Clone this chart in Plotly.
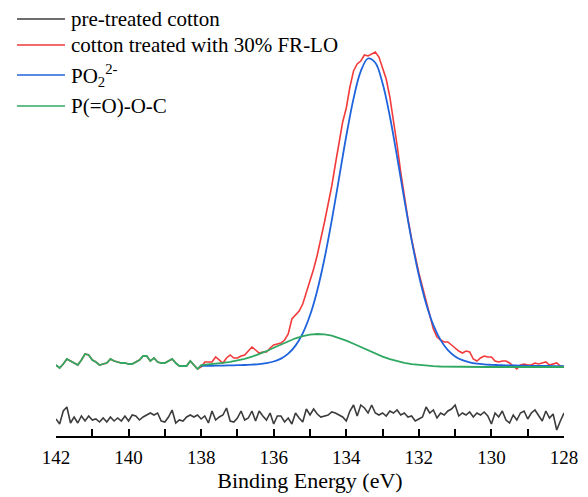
import numpy as np
import plotly.graph_objects as go

# Binding energy grids (eV)
energy_all = np.round(np.arange(142.0, 127.95, -0.1), 1)      # 141 points
energy_left = np.round(np.arange(142.0, 138.05, -0.1), 1)     # 40 points, 142.0 .. 138.1
energy_right = np.round(np.arange(138.0, 127.95, -0.1), 1)    # 101 points, 138.0 .. 128.0
energy_fit = np.round(np.arange(138.0, 127.95, -0.2), 1)      # 51 points

# pre-treated cotton (offset below)
pretreated = [
    -52, -57, -44, -40, -56, -50, -56, -49, -54, -49, -53, -52, -55, -51, -55, -50, -54,
    -51, -54, -49, -54, -48, -49, -53, -50, -48, -46, -48, -46, -54, -55, -50, -43, -56,
    -53, -54, -50, -48, -50, -48, -52, -49, -56, -44, -53, -50, -48, -41, -54, -55, -51,
    -44, -53, -51, -44, -54, -44, -49, -53, -46, -57, -49, -49, -55, -51, -57, -46, -51,
    -55, -42,
    -48, -42, -47, -50, -49, -48, -45, -46, -48, -50, -54, -44, -38, -49, -38, -41, -46,
    -38, -46, -48, -46, -49, -44, -46, -43, -48, -46, -50, -49, -54, -52, -50, -40, -46,
    -43, -51,
    -46, -48, -44, -42, -38, -49, -46, -48, -45, -50, -46, -48, -45, -49, -57, -46, -50,
    -44, -53, -56, -48, -53, -46, -44, -52, -46, -43, -49, -54, -44, -51, -47, -63, -54,
    -46,
]

# cotton treated with 30% FR-LO, 142.0 .. 138.1
treated_left = [
    2, -1, 3, 8, 6, 4, 2, 7, 13, 12, 7, 5, 2, 3, 4, 8, 6, 5, 4, 4,
    3, 3, 5, 7, 11, 11, 6, 9, 5, 4, 4, 6, 8, 4, 1, 1, 1, 6, 2, -2,
]
# cotton treated with 30% FR-LO, 138.0 .. 128.0
treated_right = [
    0, 5, 5, 5, 10, 7, 4, 9, 12, 9, 9, 11, 12, 16, 20, 17, 14, 15, 15, 19,
    22, 23, 24, 27, 33, 48, 52, 56, 63, 74, 86, 98, 112, 127, 145, 163, 181, 203, 224, 245,
    259, 280, 296, 303, 306, 312, 311, 313, 315, 310, 300, 288, 270, 248, 222, 195, 170, 148, 128, 110,
    94, 80, 66, 50, 38, 30, 27, 25, 25, 22, 19, 16, 14, 16, 15, 8, 6, 9, 11, 10,
    10, 6, 5, 6, 6, 4, 1, -2, 2, 3, 2, 2, 4, 3, 4, 5, 2, 3, 4, 1, 0,
]

# fitted components, 138.0 .. 128.0 step 0.2
po2_fit = [
    1.1, 1.2, 1.3, 1.4, 1.6, 1.8, 2.0, 2.4, 2.9, 3.9,
    5.5, 8.4, 13.4, 21.4, 33.7, 51.7, 76.6, 108.5, 146.7, 188.8,
    231.0, 268.4, 295.8, 308.5, 304.2, 283.7, 250.7, 210.2, 167.4, 126.9,
    91.7, 63.3, 41.9, 26.9, 16.9, 10.6, 6.8, 4.6, 3.3, 2.6,
    2.2, 1.9, 1.6, 1.5, 1.4, 1.2, 1.1, 1.1, 1.0, 0.9, 0.8,
]
poc_fit = [
    1.8, 2.4, 3.2, 4.1, 5.2, 6.5, 8.2, 10.3, 12.8, 15.8,
    19.2, 22.6, 25.8, 28.7, 30.9, 32.4, 33.0, 32.6, 31.3, 29.2,
    26.4, 23.2, 19.8, 16.5, 13.3, 10.4, 7.9, 5.8, 4.2, 2.9,
    2.0, 1.3, 0.8, 0.5, 0.3, 0.2, 0.1, 0.1, 0.0, 0.0,
    0.0, 0.0, 0.0, 0.0, 0.0, 0.0, 0.0, 0.0, 0.0, 0.0, 0.0,
]

series_names = ["pre-treated cotton", "cotton treated with 30% FR-LO",
                "PO<sub>2</sub><sup>2-</sup>", "P(=O)-O-C"]

FONT = "Liberation Serif"
BLACK_C = "#3c3c3c"
RED_C = "#f23a3a"
BLUE_C = "#1f64dc"
GREEN_C = "#30a862"
colors = [BLACK_C, RED_C, BLUE_C, GREEN_C]

fig = go.Figure()
fig.add_trace(go.Scatter(x=energy_all, y=pretreated, mode="lines",
                         line=dict(color=BLACK_C, width=1.6), name=series_names[0]))
fig.add_trace(go.Scatter(x=np.concatenate([energy_left, energy_right]),
                         y=treated_left + treated_right, mode="lines",
                         line=dict(color=RED_C, width=1.6), name=series_names[1]))
fig.add_trace(go.Scatter(x=energy_fit, y=po2_fit, mode="lines",
                         line=dict(color=BLUE_C, width=1.8, shape="spline"),
                         name=series_names[2]))
fig.add_trace(go.Scatter(x=np.concatenate([energy_left, energy_fit]),
                         y=treated_left + poc_fit, mode="lines",
                         line=dict(color=GREEN_C, width=1.8), name=series_names[3]))

# Legend drawn as line samples + text, placed in paper coordinates (upper left)
legend_rows = [0.9835, 0.9222, 0.8514, 0.7783]
for name, col, yy in zip(series_names, colors, legend_rows):
    fig.add_shape(type="line", xref="paper", yref="paper", x0=-0.0768, x1=0.0177, y0=yy, y1=yy,
                  line=dict(color=col, width=1.6))
    fig.add_annotation(xref="paper", yref="paper", x=0.0256, y=yy, xanchor="left", yanchor="middle",
                       text=name, showarrow=False, font=dict(family=FONT, size=21, color="black"))

# The page body has an 8px default margin, so the figure is offset by 8px.
fig.update_layout(
    width=572, height=489,
    margin=dict(l=48, r=16, t=4, b=61, autoexpand=False),
    paper_bgcolor="white", plot_bgcolor="white",
    font=dict(family=FONT, color="black"),
    showlegend=False,
    xaxis=dict(range=[142, 128], showgrid=False, zeroline=False,
               showline=True, linecolor="black", linewidth=1.5,
               ticks="inside", ticklen=7, tickwidth=1.5, tickcolor="black",
               dtick=2, tick0=128,
               minor=dict(dtick=1, ticks="inside", ticklen=7, tickwidth=1.5, tickcolor="black"),
               tickfont=dict(family=FONT, size=19, color="black"),
               ticklabelstandoff=3,
               title=dict(text="Binding Energy (eV)", font=dict(family=FONT, size=22, color="black"),
                          standoff=4)),
    yaxis=dict(range=[-69, 355], visible=False),
)

fig.write_html("out.html")
